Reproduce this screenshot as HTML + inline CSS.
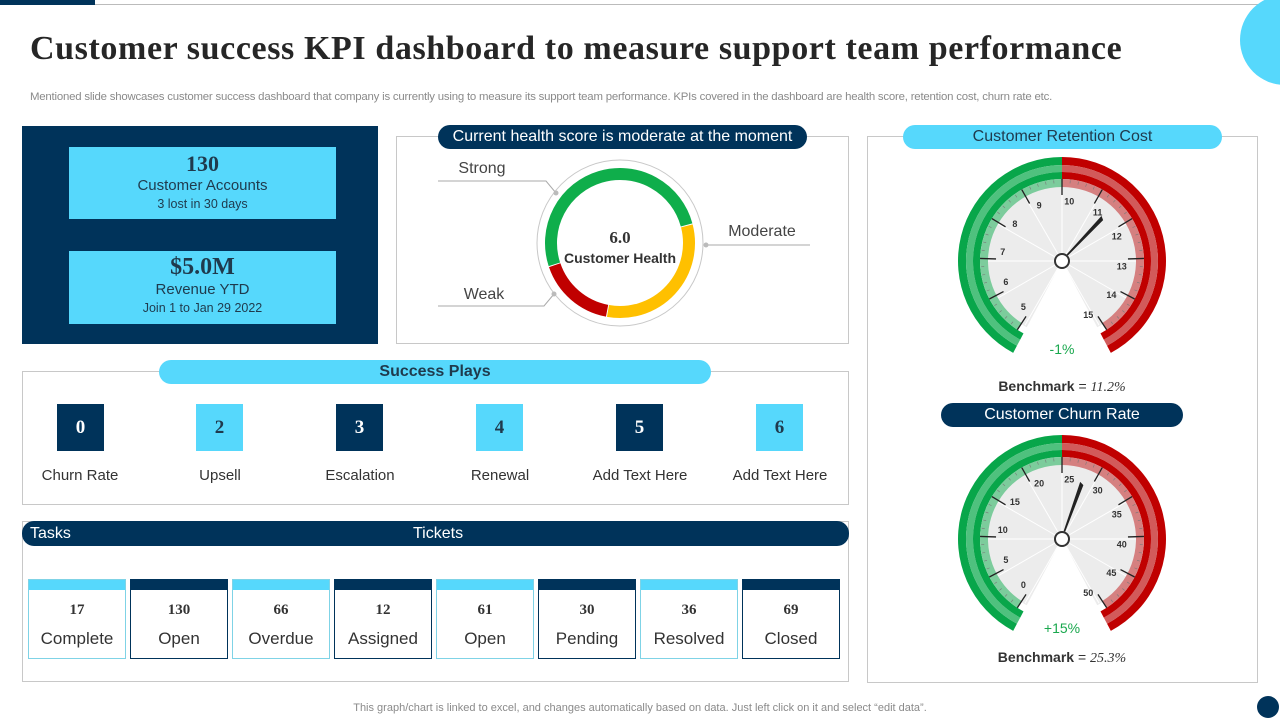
<!DOCTYPE html>
<html><head><meta charset="utf-8"><style>
*{box-sizing:border-box;margin:0;padding:0}
body{width:1280px;height:720px;position:relative;background:#fff;font-family:"Liberation Sans",sans-serif;overflow:hidden;color:#333}
.a{position:absolute}
.serif{font-family:"Liberation Serif",serif;font-weight:bold}
.navy{background:#00335a}
.lb{background:#56d8fc}
.pill{border-radius:12px;text-align:center;font-size:16px;line-height:24px}
.sq{position:absolute;width:47px;height:47px;top:404px;font-family:"Liberation Serif",serif;font-weight:bold;font-size:19px;text-align:center;line-height:47px}
.sl{position:absolute;top:467px;width:140px;text-align:center;font-size:15px;color:#333}
.card{position:absolute;top:579px;width:98px;height:80px;text-align:center}
.card .h{height:10px}
.card .v{font-family:"Liberation Serif",serif;font-weight:bold;font-size:15px;margin-top:12px;color:#333}
.card .t{font-size:17px;margin-top:10px;color:#333}
</style></head><body>
<div class="a navy" style="left:0;top:0;width:95px;height:5px"></div>
<div class="a" style="left:95px;top:4px;width:1185px;height:1px;background:#bbb"></div>
<div class="a lb" style="left:1240px;top:-5px;width:90px;height:90px;border-radius:50%"></div>
<div class="a serif" style="left:30px;top:30px;font-size:34px;color:#262626;letter-spacing:0.6px;white-space:nowrap">Customer success KPI dashboard to measure support team performance</div>
<div class="a" style="left:30px;top:91px;font-size:11.4px;color:#8a8a8a;white-space:nowrap;letter-spacing:-0.2px">Mentioned slide showcases customer success dashboard that company is currently using to measure its support team performance. KPIs covered in the dashboard are health score, retention cost, churn rate etc.</div>

<div class="a navy" style="left:22px;top:126px;width:356px;height:218px"></div>
<div class="a lb" style="left:69px;top:147px;width:267px;height:72px;text-align:center;color:#1f3a4d">
<div class="serif" style="font-size:22px;margin-top:4px">130</div><div style="font-size:15px">Customer Accounts</div><div style="font-size:12.5px;margin-top:3px">3 lost in 30 days</div></div>
<div class="a lb" style="left:69px;top:251px;width:267px;height:73px;text-align:center;color:#1f3a4d">
<div class="serif" style="font-size:24px;margin-top:3px">$5.0M</div><div style="font-size:15px">Revenue YTD</div><div style="font-size:12.5px;margin-top:3px">Join 1 to Jan 29 2022</div></div>

<div class="a" style="left:396px;top:136px;width:453px;height:208px;border:1px solid #c8c8c8"></div>
<div class="a navy pill" style="left:438px;top:125px;width:369px;height:24px;color:#fff">Current health score is moderate at the moment</div>
<svg class="a" style="left:396px;top:136px" width="453" height="208" id="donut"></svg>

<div class="a" style="left:22px;top:371px;width:827px;height:134px;border:1px solid #c8c8c8"></div>
<div class="a lb pill" style="left:159px;top:360px;width:552px;height:24px;font-weight:bold;color:#1f3a4d">Success Plays</div>
<div class="sq navy" style="left:57px;color:#fff">0</div>
<div class="sq lb" style="left:196px;color:#1f3a4d">2</div>
<div class="sq navy" style="left:336px;color:#fff">3</div>
<div class="sq lb" style="left:476px;color:#1f3a4d">4</div>
<div class="sq navy" style="left:616px;color:#fff">5</div>
<div class="sq lb" style="left:756px;color:#1f3a4d">6</div>
<div class="sl" style="left:10px">Churn Rate</div>
<div class="sl" style="left:150px">Upsell</div>
<div class="sl" style="left:290px">Escalation</div>
<div class="sl" style="left:430px">Renewal</div>
<div class="sl" style="left:570px">Add Text Here</div>
<div class="sl" style="left:710px">Add Text Here</div>

<div class="a" style="left:22px;top:521px;width:827px;height:161px;border:1px solid #c8c8c8"></div>
<div class="a navy" style="left:22px;top:521px;width:827px;height:25px;border-radius:12px;color:#fff;font-size:16px;line-height:25px">
<span style="position:absolute;left:8px">Tasks</span><span style="position:absolute;left:391px">Tickets</span></div>
<div id="cards"></div>

<div class="a" style="left:867px;top:136px;width:391px;height:547px;border:1px solid #c8c8c8"></div>
<div class="a lb pill" style="left:903px;top:125px;width:319px;height:24px;color:#1f3a4d">Customer Retention Cost</div>
<div class="a navy pill" style="left:941px;top:403px;width:242px;height:24px;color:#fff">Customer Churn Rate</div>
<svg class="a" style="left:867px;top:136px" width="391" height="547" id="gauges"></svg>
<div class="a" style="left:1022px;top:341px;width:80px;text-align:center;color:#1aa84e;font-size:14px">-1%</div>
<div class="a" style="left:962px;top:378px;width:200px;text-align:center;font-size:14px;color:#333"><b>Benchmark</b> = <span style="font-family:'Liberation Serif',serif;font-style:italic">11.2%</span></div>
<div class="a" style="left:1022px;top:620px;width:80px;text-align:center;color:#1aa84e;font-size:14px">+15%</div>
<div class="a" style="left:962px;top:649px;width:200px;text-align:center;font-size:14px;color:#333"><b>Benchmark</b> = <span style="font-family:'Liberation Serif',serif;font-style:italic">25.3%</span></div>

<div class="a" style="left:0;top:702px;width:1280px;text-align:center;font-size:11px;color:#8a8a8a">This graph/chart is linked to excel, and changes automatically based on data. Just left click on it and select “edit data”.</div>
<div class="a navy" style="left:1257px;top:696px;width:22px;height:22px;border-radius:50%"></div>

<script>
const taskLabels=["Complete","Open","Overdue","Assigned","Open","Pending","Resolved","Closed"];
const taskValues=[17,130,66,12,61,30,36,69];
const healthLabels=["Strong","Moderate","Weak"];
const healthShares=[51,32,17];
const healthScore="6.0";
const retentionTicks=[5,6,7,8,9,10,11,12,13,14,15];
const retentionValue=11.4;
const churnTicks=[0,5,10,15,20,25,30,35,40,45,50];
const churnValue=28;

const NS="http://www.w3.org/2000/svg";
function mk(p,tag,at){const e=document.createElementNS(NS,tag);for(const k in at)e.setAttribute(k,at[k]);p.appendChild(e);return e;}

// cards
const cw=document.getElementById('cards');
taskLabels.forEach((l,i)=>{
  const d=document.createElement('div');d.className='card';
  
  
  const light=i%2===0;
  d.style.left=(28+i*102)+'px';
  d.style.border='1px solid '+(light?'#7fd3e6':'#00335a');
  d.innerHTML='<div class="h" style="background:'+(light?'#56d8fc':'#00335a')+'"></div><div class="v">'+taskValues[i]+'</div><div class="t">'+l+'</div>';
  cw.appendChild(d);
});

function pt(cx,cy,r,a){const t=a*Math.PI/180;return [cx+r*Math.sin(t),cy-r*Math.cos(t)];}
function arc(cx,cy,r,a0,a1){const p0=pt(cx,cy,r,a0),p1=pt(cx,cy,r,a1);const lg=(a1-a0)>180?1:0;return `M${p0[0]},${p0[1]} A${r},${r} 0 ${lg} 1 ${p1[0]},${p1[1]}`;}
function band(cx,cy,r0,r1,a0,a1){const a=pt(cx,cy,r1,a0),b=pt(cx,cy,r1,a1),c=pt(cx,cy,r0,a1),d=pt(cx,cy,r0,a0);const lg=(a1-a0)>180?1:0;
return `M${a[0]},${a[1]} A${r1},${r1} 0 ${lg} 1 ${b[0]},${b[1]} L${c[0]},${c[1]} A${r0},${r0} 0 ${lg} 0 ${d[0]},${d[1]} Z`;}

// donut
const dn=document.getElementById('donut');
const dcx=224,dcy=107;
mk(dn,'circle',{cx:dcx,cy:dcy,r:83,fill:'none',stroke:'#c8c8c8','stroke-width':1});
const dcol=['#0fae4b','#ffc000','#c00000'];
let start=252;
const mids=[];
healthShares.forEach((s,i)=>{
  const sw=s/100*360;
  const p=mk(dn,'path',{d:arc(dcx,dcy,69,start,start+sw-0.8),fill:'none',stroke:dcol[i],'stroke-width':12});
  
  
  mids.push(start+sw/2);start+=sw;
});
// leader lines (positions of labels fixed in layout)
const leaders=[[[42,45],[150,45],[160,57]],[[310,109],[414,109]],[[42,170],[148,170],[158,158]]];
const dots=[[160,57],[310,109],[158,158]];
leaders.forEach(l=>mk(dn,'polyline',{points:l.map(p=>p.join(',')).join(' '),fill:'none',stroke:'#aaa','stroke-width':1}));
dots.forEach(d=>mk(dn,'circle',{cx:d[0],cy:d[1],r:2.5,fill:'#bbb'}));
const lpos=[[86,37,'middle'],[366,100,'middle'],[88,163,'middle']];
healthLabels.forEach((l,i)=>{const t=mk(dn,'text',{x:lpos[i][0],y:lpos[i][1],'text-anchor':lpos[i][2],'font-size':16,fill:'#444','font-family':'Liberation Sans'});t.textContent=l;

});
let t=mk(dn,'text',{x:dcx,y:dcy,'text-anchor':'middle','font-size':17,'font-weight':'bold',fill:'#333','font-family':'Liberation Serif'});t.textContent=healthScore;
t=mk(dn,'text',{x:dcx,y:dcy+20,'text-anchor':'middle','font-size':14,'font-weight':'bold',fill:'#333','font-family':'Liberation Sans'});t.textContent='Customer Health';

// gauges
const g=document.getElementById('gauges');
function gauge(cx,cy,ticks,val){
  const A=147,A2=152;
  const mn=ticks[0],mx=ticks[ticks.length-1];
  const ang=v=>-A+(v-mn)/(mx-mn)*2*A;
  // face
  mk(g,'path',{d:`M${cx},${cy} `+band(cx,cy,0,75,-A2,A2).slice(1).replace(/^[^A]*/,m=>'L'+m),fill:'#ececec'});
  mk(g,'path',{d:band(cx,cy,0.01,75,-A2,A2),fill:'#ececec'});
  // white wedge
  const w1=pt(cx,cy,90,A2),w2=pt(cx,cy,90,-A2);
  mk(g,'path',{d:`M${cx},${cy} L${w1[0]},${w1[1]} L${w2[0]},${w2[1]} Z`,fill:'#fff'});
  // faint radial lines
  for(let a=-150;a<=150;a+=30){const p=pt(cx,cy,74,a);mk(g,'line',{x1:cx,y1:cy,x2:p[0],y2:p[1],stroke:'#fff','stroke-width':1});}
  // bands
  mk(g,'path',{d:band(cx,cy,96,104,-A2,0),fill:'#08a64a'});
  mk(g,'path',{d:band(cx,cy,89,96,-A2,0),fill:'#4fc17e'});
  mk(g,'path',{d:band(cx,cy,82,89,-A2,0),fill:'#08a64a'});
  mk(g,'path',{d:band(cx,cy,74,82,-A,0),fill:'#7ccc9c'});
  mk(g,'path',{d:band(cx,cy,96,104,0,A2),fill:'#c00000'});
  mk(g,'path',{d:band(cx,cy,89,96,0,A2),fill:'#d25a5a'});
  mk(g,'path',{d:band(cx,cy,82,89,0,A2),fill:'#c00000'});
  mk(g,'path',{d:band(cx,cy,74,82,0,A),fill:'#d58080'});
  // minor ticks
  for(let i=0;i<(ticks.length-1)*5;i++){const v=mn+(mx-mn)*i/((ticks.length-1)*5);const a=ang(v);const p0=pt(cx,cy,78,a),p1=pt(cx,cy,81,a);mk(g,'line',{x1:p0[0],y1:p0[1],x2:p1[0],y2:p1[1],stroke:'#777','stroke-width':0.6});}
  ticks.forEach(v=>{const a=ang(v);const p0=pt(cx,cy,66,a),p1=pt(cx,cy,82,a);mk(g,'line',{x1:p0[0],y1:p0[1],x2:p1[0],y2:p1[1],stroke:'#222','stroke-width':1.3});
    const lp=pt(cx,cy,60,a+7);const tx=mk(g,'text',{x:lp[0],y:lp[1]+3,'text-anchor':'middle','font-size':9,'font-weight':'bold',fill:'#333','font-family':'Liberation Sans'});tx.textContent=v;});
  // needle
  const a=ang(val);const tip=pt(cx,cy,60,a),b1=pt(cx,cy,8,a-6),b2=pt(cx,cy,8,a+6);const tp2=pt(cx,cy,58,a+4);
  const n=mk(g,'path',{d:`M${b1[0]},${b1[1]} L${tip[0]},${tip[1]} L${tp2[0]},${tp2[1]} L${b2[0]},${b2[1]} Z`,fill:'#222'});
  
  
  mk(g,'circle',{cx:cx,cy:cy,r:7,fill:'#fff',stroke:'#333','stroke-width':2});
}
gauge(195,125,retentionTicks,retentionValue);
gauge(195,403,churnTicks,churnValue);
</script>
</body></html>
